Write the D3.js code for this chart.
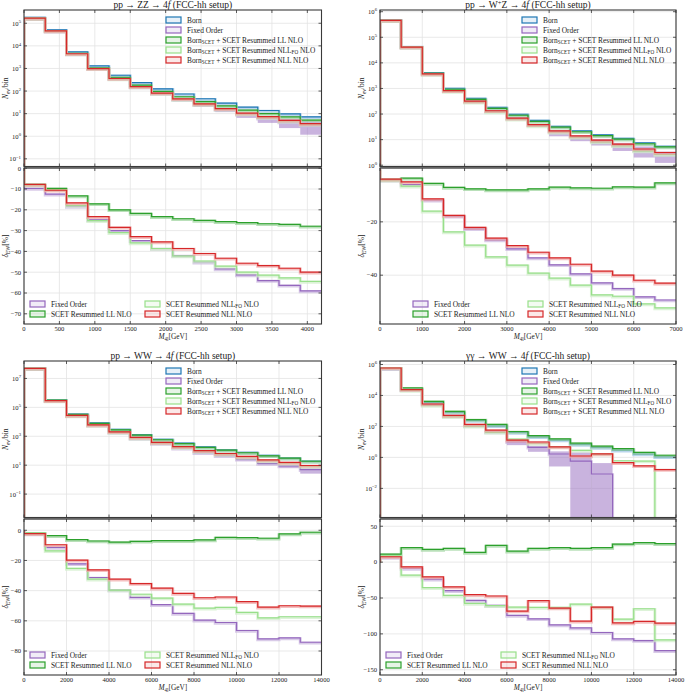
<!DOCTYPE html>
<html><head><meta charset="utf-8">
<script src="https://cdn.jsdelivr.net/npm/d3@7"></script>
<style>
body{margin:0;background:#fff}
svg text{font-family:"Liberation Serif","DejaVu Serif",serif;fill:#222}
</style>
</head><body><svg id="c" width="685" height="692"></svg>
<script>
// ---------- DATA ----------
// pp -> ZZ -> 4f
const zzBins = [0,300,600,900,1200,1500,1800,2100,2400,2700,3000,3300,3600,3900,4200];
const zzBorn = [182000,51300,5370,1290,501,234,126,74.1,45.7,29.5,19.5,13.8,9.77,7.24];
const zzFO = [-9.7,-12.5,-18.4,-24.8,-30,-34.8,-38.6,-42,-45.2,-48.4,-51.3,-54,-56.3,-59];
const zzLL = [-7.8,-9.7,-13.3,-17.1,-20,-21.7,-23.3,-24.3,-25.1,-25.7,-26.2,-26.7,-27,-27.9];
const zzNLLFO = [-8.1,-10.3,-17.9,-25.2,-31,-35.9,-38.6,-42.2,-44.6,-47.1,-50,-51.4,-52.7,-54.4];
const zzNLL = [-7.8,-10.6,-16.7,-23.3,-28.4,-32.9,-35.4,-38.6,-41,-43.3,-45.7,-46.8,-48.1,-50];
const zzBandLo = [158000,43000,4150,910,325,140,70,34.7,20,11.7,6.5,3.9,2.3,1.17];
const zzBandHi = [170000,47000,4600,1030,380,168,86,45.7,28,18.2,11,7.8,5.9,4.7];

// pp -> W+Z -> 4f
const wzBins = [0,500,1000,1500,2000,2500,3000,3500,4000,4500,5000,5500,6000,6500,7000];
const wzBorn = [479000,43600,4170,1000,407,182,97.7,56.2,33.1,21.9,15.5,11.2,7.41,5.5];
const wzFO = [-4.4,-6,-11.9,-17.9,-22.6,-26.8,-30.1,-33.5,-36.1,-39.5,-42.9,-45,-48.1,-49.3];
const wzLL = [-4.1,-3.6,-5.6,-7.1,-7.6,-8.0,-8.0,-7.6,-7.0,-7.25,-7.4,-6.9,-7.0,-5.4];
const wzNLLFO = [-4.4,-6.6,-16,-23.75,-28.75,-33.1,-36.25,-39.25,-41.1,-43.75,-47.4,-47.9,-50.75,-52.25];
const wzNLL = [-4,-5,-11.4,-17.6,-22.1,-26.1,-28.9,-31.4,-33.5,-35.9,-38.5,-40,-41.9,-43];
const wzBandLo = [436000,39000,3480,780,299,126,64,33,13.5,8.7,5.9,3.6,2.0,1.23];
const wzBandHi = [480000,43000,3850,862,331,140,72,40,21,13.5,10.7,7.5,5.4,3.4];

// pp -> WW -> 4f
const wwBins = [0,1000,2000,3000,4000,5000,6000,7000,8000,9000,10000,11000,12000,13000,14000];
const wwBorn = [5.13e7,3.24e5,34700,8320,3020,1290,617,331,182,115,76,47,31,19];
const wwFO = [-2.4,-11.3,-22.2,-31.3,-39.6,-44.4,-49.3,-55.1,-59.6,-61.1,-66.4,-72,-71.3,-74.2];
const wwLL = [-1.8,-3.6,-6.2,-7.1,-7.8,-7.3,-6.9,-6.9,-6.4,-4.7,-4.9,-5.3,-2.4,-1.3];
const wwNLLFO = [-2,-13.6,-25.3,-32.4,-39.6,-42.4,-44.9,-48.9,-51.6,-51.1,-54.4,-58,-57.3,-57.3];
const wwNLL = [-2.2,-9.6,-19.8,-26.2,-32.4,-35.3,-38.4,-41.8,-44.7,-44.2,-47.3,-50.9,-50,-50.2];
const wwBandLo = [4.85e7,2.75e5,25800,5450,1730,680,295,138,65,38,20,10,6.5,2.6];
const wwBandHi = [5.15e7,2.98e5,28200,5980,1910,750,330,158,78,48,27,14.5,10,6.2];

// gamma gamma -> WW -> 4f
const aaBins = [0,1000,2000,3000,4000,5000,6000,7000,8000,9000,10000,11000,12000,13000,14000];
const aaBorn = [550000,25700,3550,794,245,110,40.7,21.4,13.2,6.92,4.47,2.95,1.66,1.10];
const aaFO = [6.5,-8.9,-23.8,-39.7,-53.3,-60.3,-74.3,-79,-87.4,-91.6,-98.1,-107,-109.3,-123.4];
const aaLL = [11.2,20.1,17.8,19.2,13.6,23.4,15.4,19.2,20.1,19.2,20.1,25.2,27.1,25.7];
const aaNLLFO = [8.9,-18.2,-35.5,-46.3,-57.5,-60.7,-62.6,-63.1,-63.1,-58.4,-63.1,-79.4,-65,-108.4];
const aaNLL = [7.5,-6.5,-20.6,-34.6,-45.3,-47.2,-68.2,-53.7,-64,-82.2,-62.6,-84.6,-82.7,-85];
const aaBandLo = [520000,22500,2600,455,108,41,6.2,2.3,0.26,1e-9,1e-9,null,null,null];
const aaBandHi = [590000,24300,2800,500,121,46,13.2,5.6,2.45,2.1,0.43,null,null,null];

// ---------- STYLE ----------
const C = {born:"#1f77b4", fo:"#9467bd", ll:"#2ca02c", nllfo:"#98df8a", nll:"#d62728"};
const CL = {born:"#9cc3e4", fo:"#c9b5de", ll:"#9bd39b", nllfo:"#cfeec7", nll:"#f0a5a5"};

const panels = [
 {title:[["pp → ZZ → 4"],["f",{it:1}],[" (FCC-hh setup)"]], bins:zzBins, born:zzBorn, fo:zzFO, ll:zzLL, nllfo:zzNLLFO, nll:zzNLL, lo:zzBandLo, hi:zzBandHi,
  x0:24, x1:321.5, top:10, upLog:[-1.339,5.587], upTicks:[-1,0,1,2,3,4,5], low:[-74.9,0.1], lowTicks:[0,-10,-20,-30,-40,-50,-60,-70], xTicks:d3.range(0,4001,500), leg2:6},
 {title:[["pp → W"],["+",{sup:1}],["Z → 4"],["f",{it:1}],[" (FCC-hh setup)"]], bins:wzBins, born:wzBorn, fo:wzFO, ll:wzLL, nllfo:wzNLLFO, nll:wzNLL, lo:wzBandLo, hi:wzBandHi,
  x0:380, x1:676, top:10, upLog:[-0.05,6.066], upTicks:[0,1,2,3,4,5,6], low:[-58.3,0.19], lowTicks:[-20,-40], xTicks:d3.range(0,7001,1000), leg2:33},
 {title:[["pp → WW → 4"],["f",{it:1}],[" (FCC-hh setup)"]], bins:wwBins, born:wwBorn, fo:wwFO, ll:wwLL, nllfo:wwNLLFO, nll:wwNLL, lo:wwBandLo, hi:wwBandHi,
  x0:24, x1:321.5, top:361, upLog:[-2.62,8.207], upTicks:[-1,1,3,5,7], low:[-95.9,7.47], lowTicks:[0,-20,-40,-60,-80], xTicks:d3.range(0,14001,2000), leg2:6},
 {title:[["γγ → WW → 4"],["f",{it:1}],[" (FCC-hh setup)"]], bins:aaBins, born:aaBorn, fo:aaFO, ll:aaLL, nllfo:aaNLLFO, nll:aaNLL, lo:aaBandLo, hi:aaBandHi,
  x0:380, x1:676, top:361, upLog:[-3.88,6.225], upTicks:[-2,0,2,4,6], low:[-157.3,60.1], lowTicks:[50,0,-50,-100,-150], xTicks:d3.range(0,14001,2000), leg2:6}
];

const UH = 156.5, GAP = 1.5, LH = 156;
const svg = d3.select("#c");

function rich(sel, parts, size){
  let shift = 0;
  parts.forEach(p=>{
    const o = p[1]||{};
    const target = o.sub ? size*0.25 : (o.sup ? -size*0.3 : 0);
    const t = sel.append("tspan").text(p[0]);
    if(o.it) t.attr("font-style","italic");
    if(o.sub||o.sup) t.attr("font-size", size*0.7);
    if(target-shift !== 0) t.attr("dy", target-shift);
    shift = target;
  });
  return sel;
}
function sup10(sel, e, size){
  sel.append("tspan").text("10");
  sel.append("tspan").text(e<0?"\u2212"+(-e):String(e)).attr("font-size",size*0.72).attr("dy",-size*0.42);
}

const legUp = [
 ["born",[["Born"]]],
 ["fo",[["Fixed Order"]]],
 ["ll",[["Born"],["SCET",{sub:1}],[" + SCET Resummed LL NLO"]]],
 ["nllfo",[["Born"],["SCET",{sub:1}],[" + SCET Resummed NLL"],["FO",{sub:1}],[" NLO"]]],
 ["nll",[["Born"],["SCET",{sub:1}],[" + SCET Resummed NLL NLO"]]]
];
const legLow = [
 ["fo",[["Fixed Order"]],0,0],
 ["ll",[["SCET Resummed LL NLO"]],0,1],
 ["nllfo",[["SCET Resummed NLL"],["FO",{sub:1}],[" NLO"]],1,0],
 ["nll",[["SCET Resummed NLL NLO"]],1,1]
];

panels.forEach((p,pi)=>{
  const g = svg.append("g");
  const n = p.born.length;
  const uTop = p.top, uBot = p.top+UH, lTop = uBot+GAP, lBot = lTop+LH;
  const x = d3.scaleLinear().domain([p.bins[0], p.bins[n]]).range([p.x0, p.x1]);
  const yMin = Math.pow(10,p.upLog[0]), yMax = Math.pow(10,p.upLog[1]);
  const yU = d3.scaleLog().domain([yMin,yMax]).range([uBot,uTop]);
  const yL = d3.scaleLinear().domain(p.low).range([lBot,lTop]);

  const cu = "cu"+pi, cl = "cl"+pi;
  const defs = g.append("defs");
  defs.append("clipPath").attr("id",cu).append("rect").attr("x",p.x0).attr("y",uTop).attr("width",p.x1-p.x0).attr("height",UH);
  defs.append("clipPath").attr("id",cl).append("rect").attr("x",p.x0).attr("y",lTop).attr("width",p.x1-p.x0).attr("height",LH);

  // grid
  const grid = g.append("g").attr("stroke","#e3e3e3").attr("stroke-width",0.8);
  p.xTicks.forEach(t=>{
    grid.append("line").attr("x1",x(t)).attr("x2",x(t)).attr("y1",uTop).attr("y2",uBot);
    grid.append("line").attr("x1",x(t)).attr("x2",x(t)).attr("y1",lTop).attr("y2",lBot);
  });
  p.upTicks.forEach(e=>{ const yy=yU(Math.pow(10,e)); grid.append("line").attr("x1",p.x0).attr("x2",p.x1).attr("y1",yy).attr("y2",yy); });
  p.lowTicks.forEach(v=>{ const yy=yL(v); grid.append("line").attr("x1",p.x0).attr("x2",p.x1).attr("y1",yy).attr("y2",yy); });

  // upper: FO band
  const up = g.append("g").attr("clip-path",`url(#${cu})`);
  for(let i=0;i<n;i++){
    if(p.lo[i]==null) continue;
    const lo = Math.max(p.lo[i], yMin*0.1), hi = p.hi[i];
    up.append("rect").attr("x",x(p.bins[i])).attr("width",x(p.bins[i+1])-x(p.bins[i]))
      .attr("y",yU(hi)).attr("height",Math.max(0,yU(lo)-yU(hi)))
      .attr("fill",C.fo).attr("fill-opacity",0.5);
  }
  const stepU = d3.line().curve(d3.curveStepAfter);
  function upVals(key){
    if(key==="born") return p.born;
    return p.born.map((b,i)=>b*(1+p[key][i]/100));
  }
  function upPath(vals){
    const pts = [[x(p.bins[0]), uBot+2]];
    vals.forEach((v,i)=>pts.push([x(p.bins[i]), yU(v>yMin*0.1? v : yMin*0.1)]));
    const last = vals[n-1];
    pts.push([x(p.bins[n]), yU(last>yMin*0.1? last : yMin*0.1)]);
    return stepU(pts);
  }
  ["born","fo","ll","nllfo","nll"].forEach(k=>{
    const d = upPath(upVals(k));
    up.append("path").attr("d",d).attr("fill","none").attr("stroke",CL[k]).attr("stroke-width",3).attr("stroke-opacity",0.7).attr("transform","translate(0,0.8)");
    up.append("path").attr("d",d).attr("fill","none").attr("stroke",C[k]).attr("stroke-width",1.2);
  });

  // lower ratios
  const lw = g.append("g").attr("clip-path",`url(#${cl})`);
  function lowPath(vals){
    const pts = [[x(p.bins[0]), yL(0)]];
    vals.forEach((v,i)=>pts.push([x(p.bins[i]), yL(v)]));
    pts.push([x(p.bins[n]), yL(vals[n-1])]);
    return stepU(pts);
  }
  ["fo","ll","nllfo","nll"].forEach(k=>{
    const d = lowPath(p[k]);
    lw.append("path").attr("d",d).attr("fill","none").attr("stroke",CL[k]).attr("stroke-width",3).attr("stroke-opacity",0.7).attr("transform","translate(0,0.8)");
    lw.append("path").attr("d",d).attr("fill","none").attr("stroke",C[k]).attr("stroke-width",1.2);
  });

  // frames & separator
  g.append("rect").attr("x",p.x0).attr("y",uBot-0.5).attr("width",p.x1-p.x0).attr("height",GAP+1).attr("fill","#a0a0a0");
  g.append("rect").attr("x",p.x0).attr("y",uTop).attr("width",p.x1-p.x0).attr("height",UH).attr("fill","none").attr("stroke","#3a3a3a").attr("stroke-width",1.1);
  g.append("rect").attr("x",p.x0).attr("y",lTop).attr("width",p.x1-p.x0).attr("height",LH).attr("fill","none").attr("stroke","#3a3a3a").attr("stroke-width",1.1);

  // ticks
  const tk = g.append("g").attr("stroke","#333").attr("stroke-width",0.8);
  p.xTicks.forEach(t=>{
    [[uTop,1],[uBot,-1],[lTop,1],[lBot,-1]].forEach(([yy,s])=>tk.append("line").attr("x1",x(t)).attr("x2",x(t)).attr("y1",yy).attr("y2",yy+3*s));
  });
  p.upTicks.forEach(e=>{ const yy=yU(Math.pow(10,e));
    tk.append("line").attr("x1",p.x0).attr("x2",p.x0+3).attr("y1",yy).attr("y2",yy);
    tk.append("line").attr("x1",p.x1).attr("x2",p.x1-3).attr("y1",yy).attr("y2",yy); });
  p.lowTicks.forEach(v=>{ const yy=yL(v);
    tk.append("line").attr("x1",p.x0).attr("x2",p.x0+3).attr("y1",yy).attr("y2",yy);
    tk.append("line").attr("x1",p.x1).attr("x2",p.x1-3).attr("y1",yy).attr("y2",yy); });

  // tick labels
  const fs = 6.6;
  p.upTicks.forEach(e=>{
    const t = g.append("text").attr("x",p.x0-3).attr("y",yU(Math.pow(10,e))+2.5).attr("text-anchor","end").attr("font-size",fs);
    sup10(t,e,fs);
  });
  p.lowTicks.forEach(v=>{
    g.append("text").attr("x",p.x0-3).attr("y",yL(v)+2.3).attr("text-anchor","end").attr("font-size",fs)
     .text(v<0?"\u2212"+(-v):String(v));
  });
  p.xTicks.forEach(t=>{
    g.append("text").attr("x",x(t)).attr("y",lBot+7.3).attr("text-anchor","middle").attr("font-size",fs).text(t);
  });

  // axis labels and title
  const cx = (p.x0+p.x1)/2;
  const tt = g.append("text").attr("x",cx).attr("y",uTop-2).attr("text-anchor","middle").attr("font-size",9.5);
  rich(tt,p.title,9.5);
  const xl = g.append("text").attr("x",cx).attr("y",lBot+14.8).attr("text-anchor","middle").attr("font-size",7.3);
  rich(xl,[["M",{it:1}],["4l",{sub:1}],["[GeV]"]],7.3);
  const yl1 = g.append("text").attr("transform",`translate(${p.x0-16},${(uTop+uBot)/2}) rotate(-90)`).attr("text-anchor","middle").attr("font-size",7.5);
  rich(yl1,[["N",{it:1}],["ev",{sub:1}],["/bin"]],7.5);
  const yl2 = g.append("text").attr("transform",`translate(${p.x0-16},${(lTop+lBot)/2}) rotate(-90)`).attr("text-anchor","middle").attr("font-size",7.5);
  rich(yl2,[["δ",{it:1}],["EW",{sub:1}],["[%]"]],7.5);

  // upper legend
  const lfs = 7.4;
  legUp.forEach(([k,parts],i)=>{
    const yy = uTop+10+10*i;
    g.append("rect").attr("x",p.x0+142).attr("y",yy-3).attr("width",15).attr("height",6)
      .attr("fill",CL[k]).attr("fill-opacity",0.25).attr("stroke",C[k]).attr("stroke-width",1.2);
    const t = g.append("text").attr("x",p.x0+163).attr("y",yy+2.5).attr("font-size",lfs);
    rich(t,parts,lfs);
  });
  // lower legend
  legLow.forEach(([k,parts,col,row])=>{
    const yy = lBot-20+10*row;
    const ix = p.x0+p.leg2+col*115;
    g.append("rect").attr("x",ix).attr("y",yy-3).attr("width",15).attr("height",6)
      .attr("fill",CL[k]).attr("fill-opacity",0.25).attr("stroke",C[k]).attr("stroke-width",1.2);
    const t = g.append("text").attr("x",ix+21).attr("y",yy+2.5).attr("font-size",lfs);
    rich(t,parts,lfs);
  });
});
</script>
</body></html>
